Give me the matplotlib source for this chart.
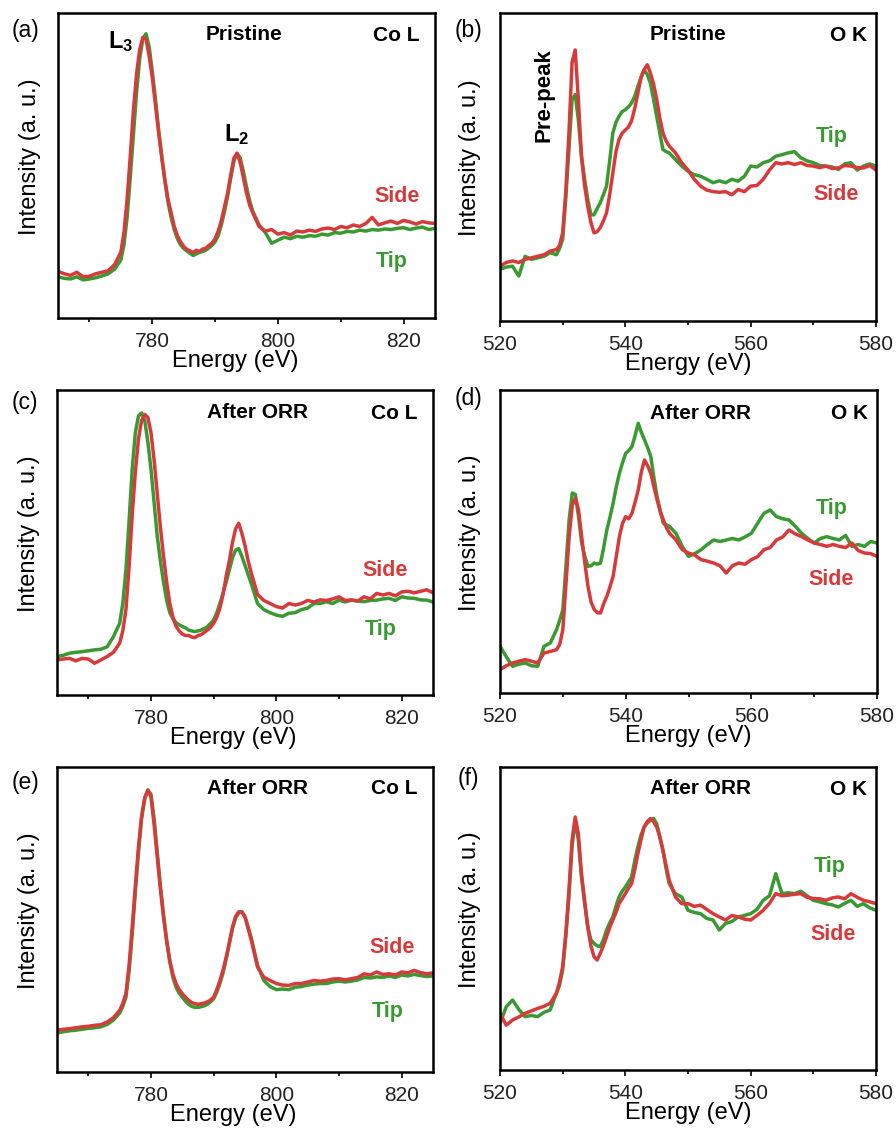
import numpy as np
import matplotlib
matplotlib.use("Agg")
import matplotlib.pyplot as plt

plt.rcParams['font.family'] = ['Liberation Sans', 'DejaVu Sans']
plt.rcParams['mathtext.fontset'] = 'custom'
plt.rcParams['mathtext.rm'] = 'Liberation Sans'
plt.rcParams['mathtext.bf'] = 'Liberation Sans:bold'

# ---------------- energy grids (eV) ----------------
co_energy = np.concatenate([np.arange(765, 775.5, 1.0),
                            np.arange(775.5, 796.25, 0.5),
                            np.arange(797, 825.5, 1.0)])
o_energy = np.concatenate([np.arange(520, 529.5, 1.0),
                           np.arange(529.5, 547.25, 0.5),
                           np.arange(548, 580.5, 1.0)])

# ---------------- Co L edge, pristine (a) ----------------
a_side = [0.153, 0.145, 0.140, 0.150, 0.135, 0.137, 0.145, 0.150, 0.155, 0.175, 0.215,
          0.28, 0.39, 0.53, 0.68, 0.80, 0.88, 0.92, 0.915, 0.86, 0.79,
          0.70, 0.61, 0.53, 0.455, 0.39, 0.345, 0.30, 0.27, 0.25, 0.235,
          0.225, 0.22, 0.215, 0.222, 0.218, 0.226, 0.228, 0.238, 0.245, 0.26,
          0.285, 0.32, 0.365, 0.41, 0.47, 0.525, 0.54, 0.51, 0.46, 0.41,
          0.37, 0.345,
          0.30, 0.285, 0.29, 0.275, 0.28, 0.272, 0.285, 0.282, 0.288, 0.284,
          0.292, 0.295, 0.29, 0.30, 0.296, 0.305, 0.30, 0.31, 0.33, 0.305,
          0.312, 0.318, 0.31, 0.32, 0.315, 0.308, 0.316, 0.312, 0.31]
a_tip = [0.135, 0.130, 0.128, 0.135, 0.125, 0.128, 0.132, 0.138, 0.145, 0.160, 0.190,
         0.24, 0.33, 0.46, 0.60, 0.74, 0.85, 0.915, 0.932, 0.89, 0.81,
         0.72, 0.62, 0.53, 0.45, 0.38, 0.33, 0.29, 0.26, 0.24, 0.228,
         0.22, 0.212, 0.205, 0.21, 0.215, 0.218, 0.222, 0.23, 0.238, 0.25,
         0.27, 0.305, 0.35, 0.40, 0.46, 0.515, 0.54, 0.525, 0.48, 0.43,
         0.385, 0.35,
         0.305, 0.28, 0.245, 0.255, 0.265, 0.26, 0.268, 0.265, 0.27, 0.268,
         0.275, 0.272, 0.28, 0.278, 0.284, 0.282, 0.288, 0.285, 0.29, 0.288,
         0.292, 0.29, 0.294, 0.296, 0.29, 0.295, 0.298, 0.29, 0.294]

# ---------------- O K edge, pristine (b) ----------------
b_side = [0.178, 0.19, 0.195, 0.19, 0.20, 0.205, 0.21, 0.215, 0.227, 0.232,
          0.245, 0.286, 0.42, 0.61, 0.84, 0.88, 0.72, 0.535, 0.44, 0.373,
          0.32, 0.286, 0.29, 0.303, 0.325, 0.351, 0.41, 0.48, 0.55, 0.59,
          0.61, 0.62, 0.63, 0.65, 0.69, 0.74, 0.79, 0.816, 0.832, 0.805,
          0.77, 0.72, 0.66, 0.61, 0.585, 0.568,
          0.546, 0.514, 0.49, 0.46, 0.438, 0.425, 0.42, 0.418, 0.42, 0.41,
          0.427, 0.42, 0.438, 0.44, 0.46, 0.49, 0.514, 0.51, 0.514, 0.508,
          0.514, 0.505, 0.503, 0.498, 0.503, 0.495, 0.497, 0.505, 0.503, 0.498,
          0.497, 0.505, 0.49]
b_tip = [0.168, 0.175, 0.178, 0.146, 0.21, 0.2, 0.205, 0.21, 0.222, 0.215,
         0.235, 0.265, 0.40, 0.557, 0.72, 0.735, 0.654, 0.535, 0.46, 0.395,
         0.345, 0.345, 0.365, 0.384, 0.41, 0.438, 0.52, 0.61, 0.645, 0.665,
         0.68, 0.686, 0.695, 0.708, 0.73, 0.762, 0.79, 0.816, 0.80, 0.773,
         0.72, 0.665, 0.61, 0.557, 0.55, 0.546,
         0.524, 0.503, 0.486, 0.475, 0.47, 0.46, 0.449, 0.455, 0.449, 0.46,
         0.454, 0.47, 0.503, 0.50, 0.514, 0.52, 0.535, 0.54, 0.546, 0.55,
         0.53, 0.52, 0.514, 0.505, 0.503, 0.50, 0.492, 0.51, 0.514, 0.49,
         0.503, 0.51, 0.503]

# ---------------- Co L edge, after ORR (c) ----------------
c_side = [0.115, 0.118, 0.120, 0.112, 0.120, 0.118, 0.104, 0.115, 0.126, 0.140, 0.170,
          0.21, 0.28, 0.42, 0.59, 0.73, 0.84, 0.90, 0.92, 0.91, 0.86,
          0.77, 0.66, 0.55, 0.455, 0.37, 0.30, 0.255, 0.225, 0.21, 0.20,
          0.195, 0.195, 0.19, 0.188, 0.195, 0.198, 0.205, 0.213, 0.222, 0.235,
          0.255, 0.285, 0.33, 0.39, 0.44, 0.50, 0.545, 0.563, 0.53, 0.49,
          0.44, 0.40,
          0.33, 0.31, 0.30, 0.29, 0.285, 0.30, 0.295, 0.30, 0.31, 0.305,
          0.312, 0.31, 0.315, 0.322, 0.31, 0.312, 0.308, 0.322, 0.315, 0.333,
          0.328, 0.333, 0.325, 0.338, 0.34, 0.335, 0.34, 0.345, 0.335]
c_tip = [0.126, 0.130, 0.137, 0.140, 0.142, 0.145, 0.148, 0.150, 0.158, 0.191, 0.235,
         0.30, 0.41, 0.57, 0.74, 0.86, 0.915, 0.925, 0.90, 0.83, 0.74,
         0.63, 0.52, 0.44, 0.37, 0.31, 0.27, 0.25, 0.237, 0.23, 0.225,
         0.22, 0.213, 0.21, 0.208, 0.21, 0.213, 0.218, 0.224, 0.235, 0.246,
         0.27, 0.30, 0.335, 0.37, 0.41, 0.45, 0.475, 0.48, 0.455, 0.425,
         0.395, 0.365,
         0.30, 0.28, 0.27, 0.262, 0.258, 0.268, 0.27, 0.28, 0.285, 0.30,
         0.30, 0.306, 0.30, 0.311, 0.305, 0.311, 0.308, 0.306, 0.31, 0.311,
         0.315, 0.317, 0.31, 0.322, 0.318, 0.317, 0.312, 0.311, 0.305]

# ---------------- O K edge, after ORR (d) ----------------
d_side = [0.077, 0.09, 0.099, 0.105, 0.11, 0.105, 0.099, 0.132, 0.137, 0.143,
          0.16, 0.209, 0.36, 0.516, 0.62, 0.643, 0.604, 0.516, 0.43, 0.352,
          0.30, 0.275, 0.265, 0.264, 0.295, 0.319, 0.35, 0.385, 0.45, 0.516,
          0.56, 0.582, 0.575, 0.593, 0.63, 0.67, 0.73, 0.769, 0.75, 0.725,
          0.68, 0.637, 0.60, 0.571, 0.545, 0.527,
          0.505, 0.473, 0.462, 0.455, 0.44, 0.435, 0.429, 0.42, 0.396, 0.42,
          0.429, 0.425, 0.44, 0.45, 0.473, 0.48, 0.505, 0.515, 0.538, 0.525,
          0.516, 0.505, 0.495, 0.49, 0.484, 0.49, 0.484, 0.48, 0.495, 0.47,
          0.462, 0.46, 0.451]
d_tip = [0.154, 0.12, 0.088, 0.095, 0.099, 0.09, 0.088, 0.154, 0.165, 0.209,
         0.24, 0.275, 0.42, 0.571, 0.66, 0.655, 0.582, 0.495, 0.45, 0.418,
         0.42, 0.429, 0.425, 0.429, 0.48, 0.538, 0.58, 0.626, 0.68, 0.725,
         0.76, 0.791, 0.80, 0.813, 0.85, 0.89, 0.86, 0.835, 0.81, 0.78,
         0.71, 0.648, 0.60, 0.56, 0.555, 0.549,
         0.527, 0.484, 0.451, 0.46, 0.473, 0.49, 0.505, 0.50, 0.505, 0.51,
         0.505, 0.515, 0.527, 0.56, 0.593, 0.604, 0.582, 0.575, 0.571, 0.55,
         0.527, 0.51, 0.495, 0.51, 0.516, 0.51, 0.505, 0.52, 0.484, 0.49,
         0.484, 0.50, 0.495]

# ---------------- Co L edge, after ORR (e) ----------------
e_side = [0.137, 0.14, 0.142, 0.145, 0.148, 0.15, 0.153, 0.155, 0.164, 0.178, 0.202,
          0.225, 0.257, 0.35, 0.475, 0.61, 0.738, 0.84, 0.90, 0.923, 0.902,
          0.81, 0.705, 0.60, 0.508, 0.43, 0.366, 0.32, 0.29, 0.27, 0.257,
          0.245, 0.235, 0.228, 0.224, 0.222, 0.224, 0.226, 0.23, 0.236, 0.246,
          0.27, 0.30, 0.335, 0.377, 0.425, 0.475, 0.51, 0.525, 0.525, 0.508,
          0.47, 0.432,
          0.344, 0.311, 0.30, 0.29, 0.285, 0.284, 0.29, 0.29, 0.295, 0.30,
          0.298, 0.30, 0.305, 0.306, 0.302, 0.306, 0.31, 0.322, 0.318, 0.328,
          0.32, 0.322, 0.318, 0.328, 0.325, 0.333, 0.326, 0.322, 0.325]
e_tip = [0.128, 0.132, 0.135, 0.137, 0.14, 0.143, 0.145, 0.148, 0.156, 0.17, 0.193,
         0.215, 0.245, 0.33, 0.45, 0.59, 0.72, 0.83, 0.895, 0.925, 0.91,
         0.83, 0.72, 0.61, 0.515, 0.43, 0.36, 0.31, 0.278, 0.258, 0.245,
         0.232, 0.222, 0.215, 0.212, 0.212, 0.214, 0.217, 0.222, 0.23, 0.24,
         0.262, 0.29, 0.325, 0.37, 0.42, 0.47, 0.505, 0.522, 0.525, 0.51,
         0.475, 0.44,
         0.35, 0.30, 0.28, 0.27, 0.272, 0.27, 0.278, 0.28, 0.285, 0.288,
         0.29, 0.29, 0.295, 0.298, 0.295, 0.298, 0.302, 0.31, 0.308, 0.312,
         0.31, 0.315, 0.31, 0.318, 0.315, 0.32, 0.316, 0.313, 0.315]

# ---------------- O K edge, after ORR (f) ----------------
f_side = [0.187, 0.148, 0.165, 0.175, 0.187, 0.195, 0.203, 0.21, 0.22, 0.253,
          0.29, 0.341, 0.45, 0.593, 0.758, 0.835, 0.78, 0.648, 0.56, 0.473,
          0.41, 0.374, 0.363, 0.385, 0.41, 0.44, 0.47, 0.495, 0.52, 0.549,
          0.565, 0.582, 0.60, 0.615, 0.66, 0.714, 0.76, 0.802, 0.82, 0.83,
          0.82, 0.802, 0.77, 0.725, 0.675, 0.626,
          0.571, 0.549, 0.549, 0.54, 0.544, 0.53, 0.516, 0.505, 0.495, 0.51,
          0.505, 0.498, 0.495, 0.51, 0.527, 0.55, 0.582, 0.575, 0.577, 0.58,
          0.582, 0.57, 0.566, 0.565, 0.56, 0.568, 0.571, 0.565, 0.582, 0.57,
          0.56, 0.555, 0.549]
f_tip = [0.154, 0.209, 0.231, 0.2, 0.176, 0.18, 0.176, 0.19, 0.198, 0.253,
         0.28, 0.33, 0.44, 0.571, 0.74, 0.824, 0.76, 0.637, 0.55, 0.473,
         0.43, 0.418, 0.41, 0.407, 0.43, 0.462, 0.485, 0.505, 0.54, 0.571,
         0.59, 0.604, 0.62, 0.637, 0.69, 0.736, 0.775, 0.802, 0.815, 0.824,
         0.83, 0.813, 0.77, 0.725, 0.665, 0.615,
         0.582, 0.571, 0.527, 0.52, 0.516, 0.50, 0.495, 0.462, 0.484, 0.49,
         0.505, 0.51, 0.516, 0.53, 0.56, 0.575, 0.648, 0.582, 0.585, 0.582,
         0.59, 0.575, 0.56, 0.555, 0.549, 0.545, 0.538, 0.55, 0.56, 0.54,
         0.549, 0.535, 0.527]

panel_letters = ["(a)", "(b)", "(c)", "(d)", "(e)", "(f)"]
conditions = ["Pristine", "Pristine", "After ORR", "After ORR", "After ORR", "After ORR"]
edges = ["Co L", "O K", "Co L", "O K", "Co L", "O K"]
co_ticks = [780, 800, 820]
o_ticks = [520, 540, 560, 580]

RED = '#d83a3c'
GREEN = '#3a9a32'

fig = plt.figure(figsize=(8.96, 11.28), dpi=100)
W, H = 896.0, 1128.0
# axes boxes in pixels: (left, top, right, bottom)
boxes = [(58, 13, 435, 318), (500, 13, 876, 321),
         (57, 390, 433, 695), (500, 390, 877, 693),
         (57, 767, 433, 1072), (500, 767, 876, 1070)]
letter_pos = [(25, 30), (468, 30), (25, 402), (468, 398), (25, 782), (468, 778)]

panels = [
    (co_energy, a_side, a_tip, (765, 825), co_ticks, [770, 790, 810]),
    (o_energy, b_side, b_tip, (520, 580), o_ticks, [530, 550, 570]),
    (co_energy, c_side, c_tip, (765, 825), co_ticks, [770, 790, 810]),
    (o_energy, d_side, d_tip, (520, 580), o_ticks, [530, 550, 570]),
    (co_energy, e_side, e_tip, (765, 825), co_ticks, [770, 790, 810]),
    (o_energy, f_side, f_tip, (520, 580), o_ticks, [530, 550, 570]),
]
# label positions (axes fraction): (cond_x, cond_y, side_x, side_y, tip_x, tip_y)
lab = [
    (0.493, 0.928, 0.90, 0.397, 0.886, 0.184),
    (0.499, 0.929, 0.893, 0.41, 0.882, 0.60),
    (0.532, 0.925, 0.872, 0.407, 0.861, 0.216),
    (0.532, 0.924, 0.878, 0.376, 0.88, 0.61),
    (0.532, 0.931, 0.89, 0.407, 0.879, 0.197),
    (0.532, 0.93, 0.886, 0.446, 0.878, 0.67),
]

for i, (x, side, tip, xlim, ticks, minor) in enumerate(panels):
    assert len(side) == len(x) and len(tip) == len(x), (i, len(side), len(tip), len(x))
    l, t, r, b = boxes[i]
    ax = fig.add_axes([l / W, 1 - b / H, (r - l) / W, (b - t) / H])
    ax.plot(x, tip, color=GREEN, lw=2.5, solid_joinstyle='round')
    ax.plot(x, side, color=RED, lw=2.5, solid_joinstyle='round')
    ax.set_xlim(*xlim)
    ax.set_ylim(0, 1)
    ax.set_xticks(ticks)
    ax.set_xticks(minor, minor=True)
    ax.set_yticks([])
    ax.tick_params(axis='x', which='major', length=4, width=1.2, direction='out',
                   labelsize=15, pad=6, labelcolor='#222222')
    ax.tick_params(axis='x', which='minor', length=3, width=1.2, direction='out')
    for sp in ax.spines.values():
        sp.set_linewidth(1.8)
    ax.set_xlabel("Energy (eV)", fontsize=17)
    ax.xaxis.set_label_coords(0.47 if i % 2 == 0 else 0.5, -0.105)
    ax.set_ylabel("Intensity (a. u.)", fontsize=17)
    ax.yaxis.set_label_coords(-0.045 if i % 2 == 0 else -0.05, 0.53)

    cx, cy, sx, sy, tx, ty = lab[i]
    ax.text(cx, cy, conditions[i], transform=ax.transAxes, ha='center', va='center',
            fontsize=15, fontweight='bold')
    ax.text(0.96 if i % 2 == 0 else 0.976, cy - 0.003, edges[i], transform=ax.transAxes,
            ha='right', va='center', fontsize=15, fontweight='bold')
    ax.text(sx, sy, "Side", transform=ax.transAxes, ha='center', va='center',
            fontsize=15.5, fontweight='bold', color=RED)
    ax.text(tx, ty, "Tip", transform=ax.transAxes, ha='center', va='center',
            fontsize=15.5, fontweight='bold', color=GREEN)

    if i == 0:
        ax.text(0.167, 0.905, r"$\mathbf{L_3}$", transform=ax.transAxes, ha='center',
                va='center', fontsize=17)
        ax.text(0.475, 0.60, r"$\mathbf{L_2}$", transform=ax.transAxes, ha='center',
                va='center', fontsize=17)
    if i == 1:
        ax.text(0.116, 0.732, "Pre-peak", transform=ax.transAxes, ha='center',
                va='center', rotation=90, fontsize=16, fontweight='bold')

    lx, ly = letter_pos[i]
    fig.text(lx / W, 1 - ly / H, panel_letters[i], ha='center', va='center', fontsize=16.5)

fig.savefig("out.png", dpi=100)
